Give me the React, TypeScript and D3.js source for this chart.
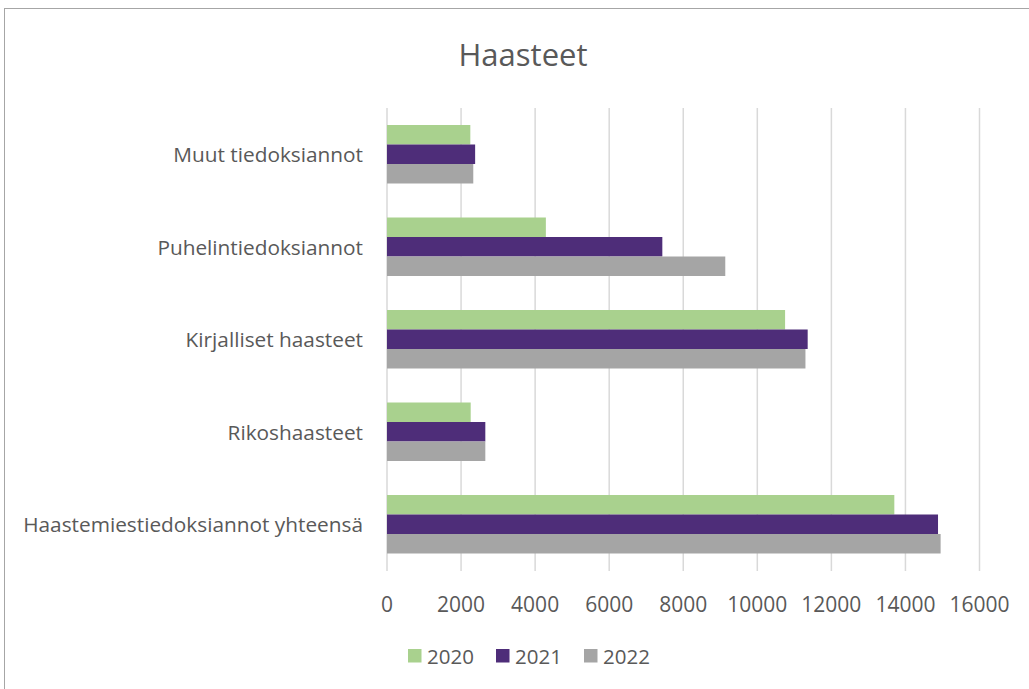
import React from "react";
import * as d3 from "d3";

const categories = [
  "Haastemiestiedoksiannot yhteensä",
  "Rikoshaasteet",
  "Kirjalliset haasteet",
  "Puhelintiedoksiannot",
  "Muut tiedoksiannot",
];
const seriesNames = ["2020", "2021", "2022"];
const values2020 = [13700, 2260, 10750, 4290, 2250];
const values2021 = [14880, 2655, 11360, 7435, 2380];
const values2022 = [14950, 2655, 11300, 9135, 2330];
const xTicks = [0, 2000, 4000, 6000, 8000, 10000, 12000, 14000, 16000];
const colors = ["#a9d18e", "#4e2d79", "#a5a5a5"];

const W = 1029;
const H = 689;
const FONT = "'Open Sans', sans-serif";
const TXT = "#595959";

export default function App() {
  const series = [values2020, values2021, values2022];
  const x = d3.scaleLinear().domain([0, 16000]).range([387, 979.5]);
  // bottom-to-top order: first category at bottom
  const y = d3
    .scaleBand<string>()
    .domain([...categories].reverse())
    .range([108, 570.5])
    .paddingInner(0.3676)
    .paddingOuter(0.1838);
  const inner = d3
    .scaleBand<string>()
    .domain(seriesNames)
    .range([0, y.bandwidth()]);

  return (
    <div style={{ position: "absolute", left: 0, top: 0 }}>
      <svg width={W} height={H} style={{ display: "block", background: "#fff" }}>
        <rect x={4.5} y={8.5} width={W + 10} height={H + 10} fill="#fff" stroke="#a6a6a6" strokeWidth={1} />
        <text x={523} y={54} textAnchor="middle" dominantBaseline="central" fontFamily={FONT} fontSize={31} fill={TXT}>
          Haasteet
        </text>
        {xTicks.map((t) => (
          <line key={"g" + t} x1={x(t)} x2={x(t)} y1={108} y2={571} stroke="#d9d9d9" strokeWidth={1.5} />
        ))}
        {categories.map((c, ci) =>
          series.map((vals, si) => (
            <rect
              key={c + si}
              x={x(0)}
              y={(y(c) as number) + (inner(seriesNames[si]) as number)}
              width={x(vals[ci]) - x(0)}
              height={inner.bandwidth()}
              fill={colors[si]}
            />
          ))
        )}
        {xTicks.map((t) => (
          <text key={"t" + t} x={x(t)} y={604} textAnchor="middle" dominantBaseline="central" fontFamily={FONT} fontSize={21} fill={TXT}>
            {t}
          </text>
        ))}
        {categories.map((c) => (
          <text key={"l" + c} x={363} y={(y(c) as number) + y.bandwidth() / 2} textAnchor="end" dominantBaseline="central" fontFamily={FONT} fontSize={20.8} fill={TXT}>
            {c}
          </text>
        ))}
        {seriesNames.map((s, i) => (
          <g key={"lg" + s} transform={`translate(${408 + i * 88},0)`}>
            <rect x={0} y={649} width={13.5} height={13.5} fill={colors[i]} />
            <text x={19} y={656} dominantBaseline="central" fontFamily={FONT} fontSize={20.5} fill={TXT}>
              {s}
            </text>
          </g>
        ))}
      </svg>
    </div>
  );
}
